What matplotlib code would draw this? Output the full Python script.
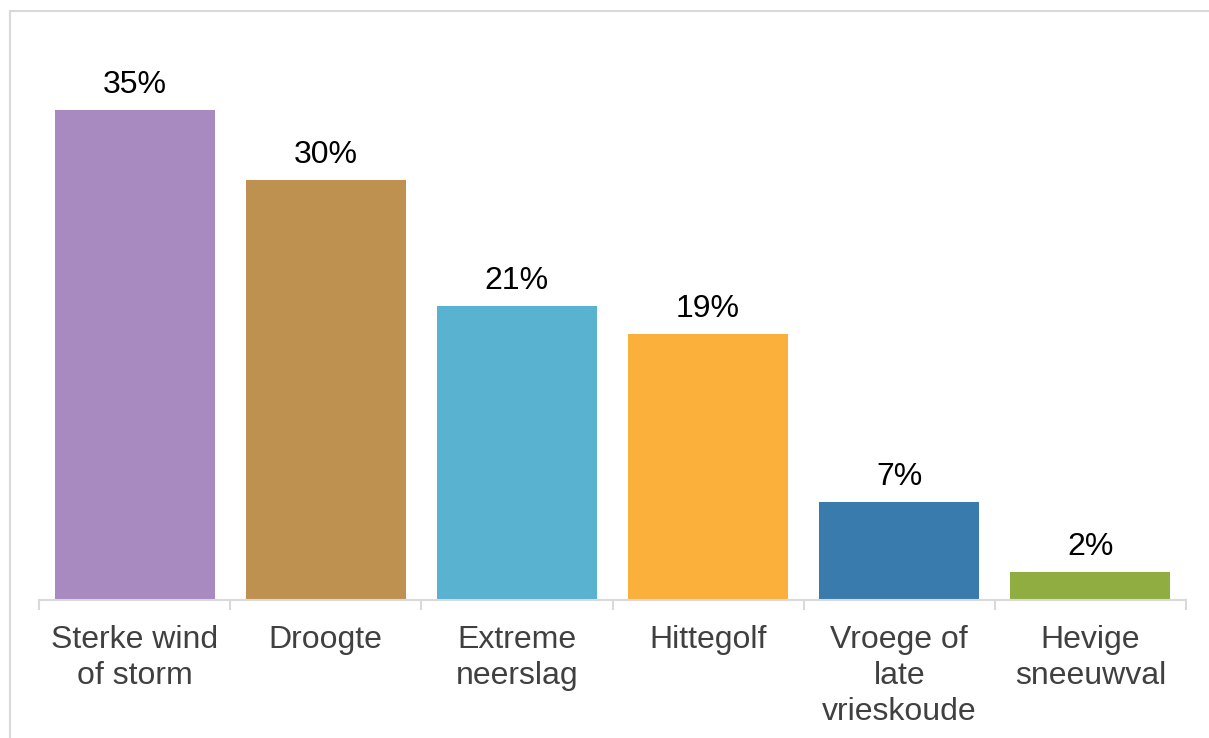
import matplotlib
matplotlib.use("Agg")
import matplotlib.pyplot as plt
from matplotlib.patches import Rectangle

categories = ["Sterke wind\nof storm", "Droogte", "Extreme\nneerslag", "Hittegolf",
              "Vroege of\nlate\nvrieskoude", "Hevige\nsneeuwval"]
values = [35, 30, 21, 19, 7, 2]
labels = ["35%", "30%", "21%", "19%", "7%", "2%"]
colors = ["#A889C0", "#BF9150", "#59B2D0", "#FBB03B", "#3A7BAD", "#8FAD41"]

plt.rcParams['font.family'] = ['Liberation Sans', 'DejaVu Sans']

W, H = 1209, 738
fig = plt.figure(figsize=(W / 100, H / 100), dpi=100)

# outer frame
fig.patches.append(Rectangle((10 / W, -0.1), 1.1, (H - 11) / H + 0.1, transform=fig.transFigure,
                             fill=False, edgecolor="#D9D9D9", linewidth=1.5))

left, right = 39 / W, 1186 / W
bottom, top = (H - 600) / H, (H - 40) / H
ax = fig.add_axes([left, bottom, right - left, top - bottom])

x = list(range(len(values)))
ax.bar(x, values, width=0.837, color=colors)
ax.set_xlim(-0.5, len(values) - 0.5)
ax.set_ylim(0, 40)

for xi, v, lab in zip(x, values, labels):
    ax.annotate(lab, (xi, v), xytext=(0, 12.5), textcoords="offset points",
                ha="center", va="baseline", fontsize=23, color="black")

for s in ["top", "right", "left"]:
    ax.spines[s].set_visible(False)
ax.spines["bottom"].set_color("#D9D9D9")
ax.spines["bottom"].set_linewidth(1.5)
ax.set_yticks([])

ax.set_xticks(x)
ax.set_xticklabels(categories, fontsize=23, color="#404040", linespacing=1.25)
ax.tick_params(axis="x", which="major", length=0, pad=18)
ax.set_xticks([i - 0.5 for i in range(len(values) + 1)], minor=True)
ax.tick_params(axis="x", which="minor", length=7.5, width=1.5, color="#D9D9D9")

fig.savefig("out.png", dpi=100)
